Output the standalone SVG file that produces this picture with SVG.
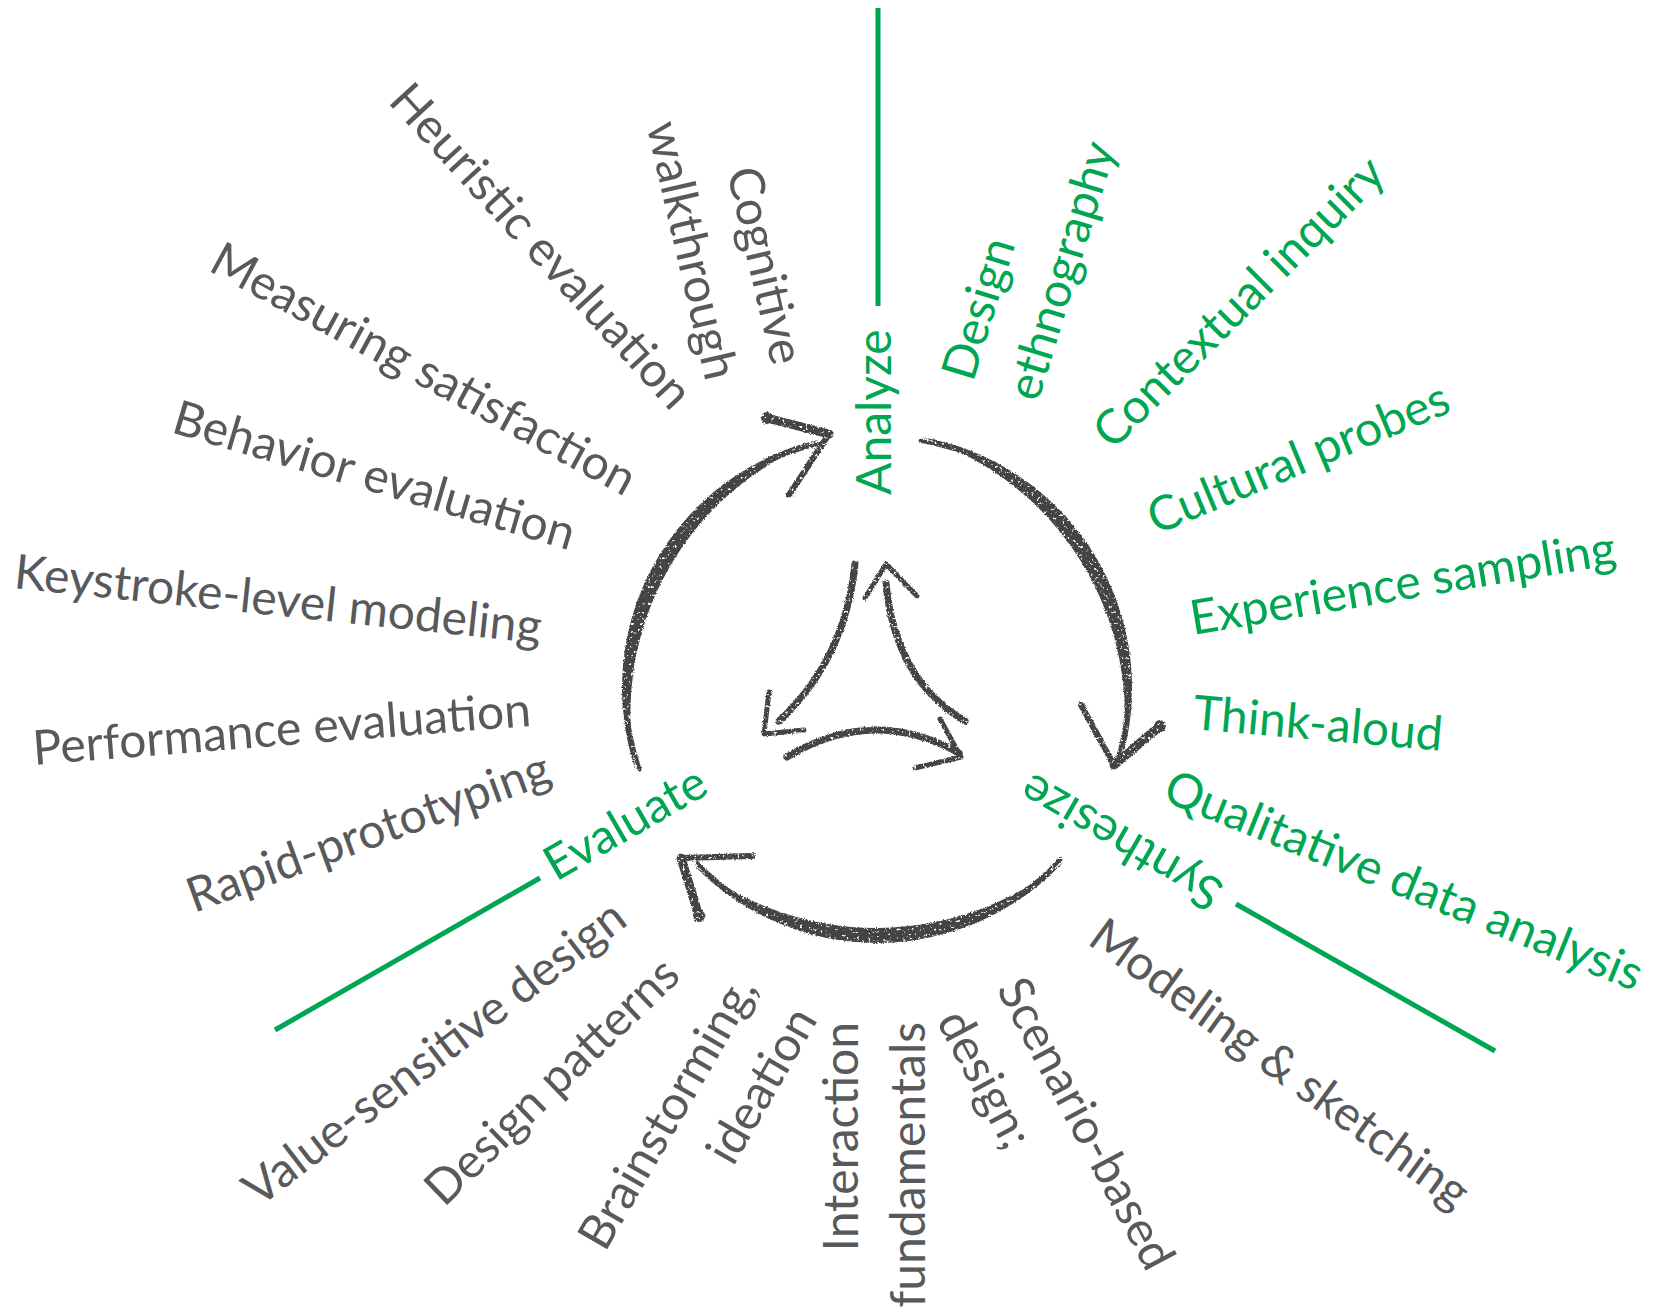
<svg xmlns="http://www.w3.org/2000/svg" width="1657" height="1312" viewBox="0 0 1657 1312">
  <style>
    .lbl { font-family: Lato, "Liberation Sans", sans-serif; font-size: 48px; fill: #58595b; }
    .grn { fill: #00a651; }
    .lead { stroke: #00a651; stroke-width: 5; fill: none; }
    .ink { fill: #444444; }
    .stk { stroke: #444444; fill: none; stroke-linecap: round; stroke-linejoin: round; }
  </style>
  <defs>
    <!-- roughens the edges of the charcoal strokes and adds a light dry-brush grain -->
    <filter id="brush" filterUnits="userSpaceOnUse" x="0" y="0" width="1657" height="1312" color-interpolation-filters="sRGB">
      <feTurbulence type="fractalNoise" baseFrequency="0.9" numOctaves="2" seed="7" result="noise"/>
      <feDisplacementMap in="SourceGraphic" in2="noise" scale="3" xChannelSelector="R" yChannelSelector="G" result="rough"/>
      <feTurbulence type="fractalNoise" baseFrequency="0.35" numOctaves="2" seed="11" result="grain"/>
      <feColorMatrix in="grain" type="matrix" values="0 0 0 0 0  0 0 0 0 0  0 0 0 0 0  8 0 0 0 -2.0" result="gmask"/>
      <feComposite in="rough" in2="gmask" operator="in"/>
    </filter>
  </defs>
  <rect width="1657" height="1312" fill="#ffffff"/>

  <!-- cycle arrows (outer ring and inner triangle) -->
  <g id="connectors" filter="url(#brush)">
    <!-- Evaluate -> Analyze -->
    <path class="ink" d="M635.9,771 A255,255 0 0 1 819.6,439.5 A293.4,293.4 0 0 0 635.9,771 Z"/>
    <path class="stk" stroke-width="4" d="M639.7,769.7 A251,251 0 0 1 820.5,443.4"/>
    <path class="stk" stroke-width="9" d="M767,418 L829,434"/>
    <path class="stk" stroke-width="6" d="M829,434 L789,495"/>
    <circle class="ink" cx="767" cy="418" r="6"/>
    <!-- Analyze -> Synthesize -->
    <path class="ink" d="M921.3,436.9 A255,255 0 0 1 1120.9,762.6 A292.1,292.1 0 0 0 921.3,436.9 Z"/>
    <path class="stk" stroke-width="4" d="M920.6,440.8 A251,251 0 0 1 1117,761.4"/>
    <path class="stk" stroke-width="6" d="M1081,705 L1114,765"/>
    <path class="stk" stroke-width="9" d="M1114,765 L1160,726"/>
    <circle class="ink" cx="1160" cy="726" r="6"/>
    <!-- Synthesize -> Evaluate -->
    <path class="ink" d="M1063.5,861.9 A255,255 0 0 1 693.6,865.1 A297.8,297.8 0 0 0 1063.5,861.9 Z"/>
    <path class="stk" stroke-width="4" d="M1060.6,859.2 A251,251 0 0 1 696.5,862.4"/>
    <path class="stk" stroke-width="6" d="M752,856 L681,858"/>
    <path class="stk" stroke-width="9" d="M681,858 L699,916"/>
    <circle class="ink" cx="699" cy="916" r="6"/>

    <!-- inner triangle -->
    <path class="stk" stroke-width="7" d="M855,564 Q845,660 779,721"/>
    <path class="stk" stroke-width="5" d="M769,692 L764,734 L804,730"/>
    <path class="stk" stroke-width="7" d="M787,757 Q873,705 959,753"/>
    <path class="stk" stroke-width="5" d="M940,719 L961,757 L915,768"/>
    <path class="stk" stroke-width="7" d="M965,721 Q895,680 886,583"/>
    <path class="stk" stroke-width="5" d="M865,598 L886,564 L917,596"/>
  </g>

  <!-- phases -->
  <g id="analyze">
    <line class="lead" x1="878" y1="306" x2="878" y2="8"/>
    <text class="lbl grn" transform="translate(891,495) rotate(-90)">Analyze</text>
  </g>
  <g id="synthesize">
    <line class="lead" x1="1236" y1="904" x2="1495" y2="1051"/>
    <text class="lbl grn" text-anchor="end" transform="translate(1032,772) rotate(210)">Synthesize</text>
  </g>
  <g id="evaluate">
    <line class="lead" x1="540" y1="878" x2="275" y2="1030"/>
    <text class="lbl grn" transform="translate(556,882) rotate(-30)">Evaluate</text>
  </g>

  <!-- analyze methods -->
  <g id="design-ethnography">
    <text class="lbl grn" transform="translate(973,383) rotate(-73)"><tspan x="0" y="0">Design</tspan><tspan x="0" y="68">ethnography</tspan></text>
  </g>
  <g id="contextual-inquiry">
    <text class="lbl grn" transform="translate(1113,451) rotate(-45)">Contextual inquiry</text>
  </g>
  <g id="cultural-probes">
    <text class="lbl grn" transform="translate(1156,535) rotate(-22.6)">Cultural probes</text>
  </g>
  <g id="experience-sampling">
    <text class="lbl grn" transform="translate(1193,635) rotate(-9.5)">Experience sampling</text>
  </g>
  <g id="think-aloud">
    <text class="lbl grn" transform="translate(1192,729) rotate(5)">Think-aloud</text>
  </g>
  <g id="qualitative-data-analysis">
    <text class="lbl grn" transform="translate(1161,800) rotate(22)">Qualitative data analysis</text>
  </g>

  <!-- synthesize methods -->
  <g id="modeling-sketching">
    <text class="lbl" transform="translate(1086,943) rotate(36)">Modeling &amp; sketching</text>
  </g>
  <g id="scenario-based-design">
    <text class="lbl" transform="translate(996,989) rotate(62)"><tspan x="0" y="0">Scenario-based</tspan><tspan x="0" y="68">design;</tspan></text>
  </g>
  <g id="interaction-fundamentals">
    <text class="lbl" text-anchor="end" transform="translate(858,1022) rotate(-90)"><tspan x="0" y="0">Interaction</tspan><tspan x="0" y="67">fundamentals</tspan></text>
  </g>
  <g id="brainstorming-ideation">
    <text class="lbl" transform="translate(605,1253) rotate(-60)"><tspan x="0" y="0">Brainstorming,</tspan><tspan x="138" y="68">ideation</tspan></text>
  </g>
  <g id="design-patterns">
    <text class="lbl" transform="translate(444,1208) rotate(-44)">Design patterns</text>
  </g>
  <g id="value-sensitive-design">
    <text class="lbl" transform="translate(259,1208) rotate(-37.5)">Value-sensitive design</text>
  </g>

  <!-- evaluate methods -->
  <g id="rapid-prototyping">
    <text class="lbl" transform="translate(194,913) rotate(-20)">Rapid-prototyping</text>
  </g>
  <g id="performance-evaluation">
    <text class="lbl" transform="translate(34,765) rotate(-4.5)">Performance evaluation</text>
  </g>
  <g id="keystroke-level-modeling">
    <text class="lbl" transform="translate(13,588) rotate(6)">Keystroke-level modeling</text>
  </g>
  <g id="behavior-evaluation">
    <text class="lbl" transform="translate(170,432) rotate(16.5)">Behavior evaluation</text>
  </g>
  <g id="measuring-satisfaction">
    <text class="lbl" transform="translate(207,270) rotate(28.5)">Measuring satisfaction</text>
  </g>
  <g id="heuristic-evaluation">
    <text class="lbl" transform="translate(387,102) rotate(47.5)">Heuristic evaluation</text>
  </g>
  <g id="cognitive-walkthrough">
    <text class="lbl" text-anchor="end" transform="translate(772,367) rotate(77)"><tspan x="0" y="0">Cognitive</tspan><tspan x="0" y="68">walkthrough</tspan></text>
  </g>
</svg>
